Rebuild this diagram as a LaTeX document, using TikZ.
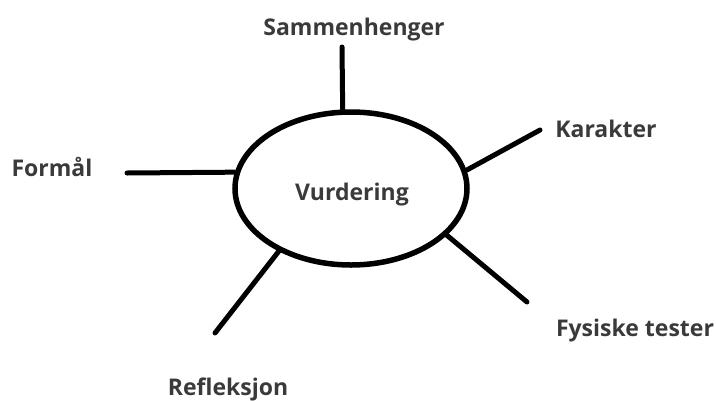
\documentclass[tikz,border=0pt]{standalone}
\usepackage{fontspec}
\setmainfont{Open Sans}
\usepackage{xcolor}
\usepackage{tikz}
\usetikzlibrary{shapes.geometric}
\definecolor{txtgray}{HTML}{3A3A3A}

\begin{document}
\begin{tikzpicture}[x=1pt, y=-1pt,
        lbl/.style={text=txtgray, font=\fontsize{23}{27}\selectfont\bfseries, inner sep=0pt},
        spoke/.style={line width=5pt, line cap=round}]
            \useasboundingbox (0,0) rectangle (716,400);
            % Centre
            \node[ellipse, draw, line width=5.5pt, minimum width=232pt, minimum height=153pt, inner sep=0pt] (vurd) at (351,188.5) {};
            \node[lbl] (vurdtxt) at (352,195) {Vurdering};
            % Labels
            \node[lbl] (samm) at (354,30) {Sammenhenger};
            \node[lbl] (kar) at (606,129) {Karakter};
            \node[lbl] (form) at (52,167) {Formål};
            \node[lbl] (fys) at (635,331) {Fysiske tester};
            \node[lbl] (refl) at (228,389) {Refleksjon};
            % Spokes
            \coordinate (sammEnd) at (342,47);
            \coordinate (karEnd) at (540,130);
            \coordinate (formEnd) at (127,173);
            \coordinate (fysEnd) at (527,302);
            \coordinate (reflEnd) at (215,333);
            \draw[spoke] (vurd.96.7) -- (sammEnd);
            \draw[spoke] (vurd.9.2) -- (karEnd);
            \draw[spoke] (vurd.172.5) -- (formEnd);
            \draw[spoke] (vurd.334) -- (fysEnd);
            \draw[spoke] (vurd.221) -- (reflEnd);
        \end{tikzpicture}
\end{document}
